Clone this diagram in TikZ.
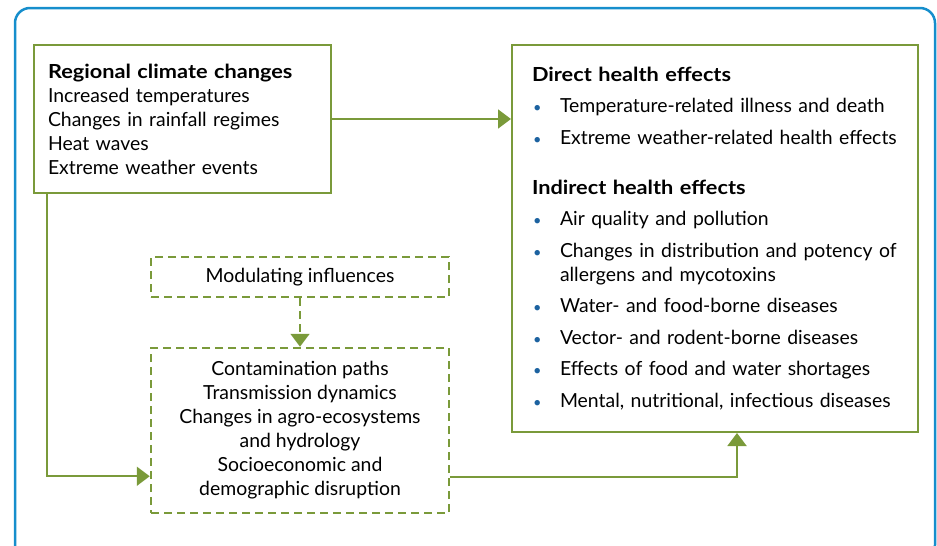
\documentclass[tikz,border=0pt]{standalone}
\usepackage{fontspec}
\setmainfont{Lato}
\newfontfamily\headfont{Lato}[FakeStretch=1.12]
\usetikzlibrary{arrows.meta,positioning}
\definecolor{flowgreen}{RGB}{122,154,58}
\definecolor{frameblue}{RGB}{22,142,204}
\definecolor{bulletblue}{RGB}{28,98,160}
\tikzset{
  solidbox/.style={draw=flowgreen, line width=2pt, inner ysep=0pt},
  dashbox/.style={draw=flowgreen, line width=2.5pt, dash pattern=on 8pt off 5pt, inner sep=0pt, align=center},
  flow/.style={draw=flowgreen, line width=2pt, -{Triangle[length=13pt,width=19pt]}},
  boxtext/.style={font=\fontsize{19.4}{24}\selectfont}
}
\def\itemgap{7.5pt}
\newcommand{\headline}[1]{{\headfont\bfseries #1}}
\newcommand{\hitem}[1]{%
  \par\vspace{\itemgap}\noindent\hangindent=28pt\hangafter=1%
  \makebox[28pt][l]{\hspace{1pt}\textcolor{bulletblue}{\scalebox{0.75}{\textbullet}}}#1%
}

\begin{document}
\begin{tikzpicture}[x=1pt, y=-1pt]
  \clip (0,0) rectangle (937,546);
  % outer frame
  \draw[frameblue, line width=2.5pt, rounded corners=15pt] (15,8) rectangle (935,560);

  % climate box
  \node[solidbox, boxtext, anchor=north west, inner xsep=14pt, text width=269pt,
        minimum height=148pt, align=left] (climate) at (33,44)
    {\headline{Regional climate changes}\\
     Increased temperatures\\
     Changes in rainfall regimes\\
     Heat waves\\
     Extreme weather events};

  % health effects box
  \node[solidbox, boxtext, anchor=north west, inner xsep=20pt, text width=366pt,
        minimum height=387pt, align=left] (health) at (511,44)
    {\noindent\headline{Direct health effects}
     \hitem{Temperature-related illness and death}
     \hitem{Extreme weather-related health effects}
     \par\vspace{26pt}\noindent\headline{Indirect health effects}
     \hitem{Air quality and pollution}
     \hitem{Changes in distribution and potency of allergens and mycotoxins}
     \hitem{Water- and food-borne diseases}
     \hitem{Vector- and rodent-borne diseases}
     \hitem{Effects of food and water shortages}
     \hitem{Mental, nutritional, infectious diseases}};

  % modulating influences
  \node[dashbox, boxtext, minimum width=298pt, minimum height=40pt] (modul) at (300,277)
    {Modulating influences};
  \node[dashbox, boxtext, minimum width=298pt, minimum height=165pt] (paths) at (300,430.5)
    {Contamination paths\\
     Transmission dynamics\\
     Changes in agro-ecosystems\\
     and hydrology\\
     Socioeconomic and\\
     demographic disruption};

  % connectors
  \draw[flow] (climate.east) -- (climate.east -| health.west);
  \draw[flow] ([xshift=14pt]climate.south west) |- ([yshift=38pt]paths.south west);
  \draw[flow] ([yshift=37pt]paths.south east) -| ([xshift=226pt]health.south west);
  \draw[flow, dash pattern=on 8pt off 5pt] (modul.south) -- (paths.north);
\end{tikzpicture}
\end{document}
